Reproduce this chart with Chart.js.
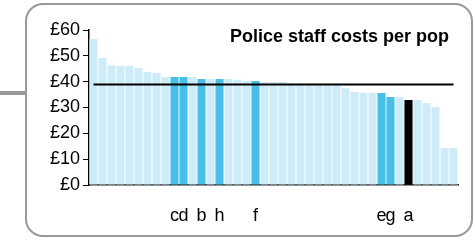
<!DOCTYPE html>
<html>
<head>
<meta charset="utf-8">
<script src="https://cdn.jsdelivr.net/npm/chart.js@4"></script>
<style>
  body { margin: 0; background: #fff; }
  #wrap { position: relative; width: 475px; height: 241px; }
  #frame { position: absolute; left: 25px; top: 3px; width: 444px; height: 230px;
           border: 2px solid #999; border-radius: 18px; }
  #stub { position: absolute; left: 0; top: 91px; width: 25px; height: 4px; background: #999; }
  canvas { position: absolute; left: 0; top: 0; }
</style>
</head>
<body>
<div id="wrap">
  <div id="stub"></div>
  <div id="frame"></div>
  <canvas id="cost_Chart" width="475" height="241"></canvas>
</div>
<script>
// 차트 데이터
const title = 'Police staff costs per pop';
const labels = ['', '', '', '', '', '', '', '', '', 'c',
	'd', '', 'b', '', 'h', '', '', '', 'f', '',
	'', '', '', '', '', '', '', '', '', '',
	'', '', 'e', 'g', '', 'a', '', '', '', '',
	''];
const costs = [56.5, 49.2, 46.4, 46.1, 46.1, 45.3, 43.7, 43.4, 41.8, 41.8,
	41.8, 41.8, 41.0, 41.0, 41.0, 41.0, 40.6, 40.3, 40.3, 39.9,
	39.9, 39.9, 39.4, 39.3, 39.2, 39.1, 39.0, 39.0, 37.5, 36.0,
	35.6, 35.6, 35.6, 34.1, 34.1, 32.9, 32.9, 31.7, 30.2, 14.3,
	14.3];
const average = 38.9;
const yTicks = [0, 10, 20, 30, 40, 50, 60];

// 막대 색: 표시된 항목은 진한 파랑, 'a'는 검정
const barColors = labels.map(function(l) {
	if (l == 'a') return '#000000';
	if (l != '') return 'rgb(72,191,232)';
	return 'rgb(206,236,248)';
});

// 차트 안쪽 제목
const titlePlugin = {
	id: 'innerTitle',
	afterDraw: function(chart) {
		const ctx = chart.ctx;
		ctx.save();
		ctx.font = 'bold 18px "Liberation Sans", Arial, sans-serif';
		ctx.fillStyle = '#000';
		ctx.textAlign = 'right';
		ctx.textBaseline = 'alphabetic';
		ctx.fillText(title, 449, 42);
		ctx.restore();
	}
};

var context = document.getElementById('cost_Chart').getContext('2d');
var cost_Chart = new Chart(context, {
	type: 'bar',
	data: {
		labels: labels,
		datasets: [
			{
				type: 'line',
				label: 'average',
				data: labels.map(function() { return average; }),
				borderColor: '#000',
				borderWidth: 2,
				pointRadius: 0,
				fill: false,
				order: 0
			},
			{
				label: 'cost',
				data: costs,
				backgroundColor: barColors,
				barPercentage: 0.9,
				categoryPercentage: 1.0,
				order: 1
			}
		]
	},
	options: {
		responsive: false,
		animation: false,
		layout: { padding: { top: 30, right: 17, bottom: 0, left: 0 } },
		plugins: {
			legend: { display: false },
			tooltip: { enabled: false }
		},
		scales: {
			x: {
				grid: { display: false, drawTicks: false },
				border: { color: '#222', width: 1.5 },
				ticks: {
					autoSkip: false,
					maxRotation: 0,
					padding: 20,
					color: '#000',
					font: { family: '"Liberation Sans", Arial, sans-serif', size: 18 }
				},
				afterFit: function(scale) { scale.height = 56; }
			},
			y: {
				min: 0,
				max: 60,
				afterBuildTicks: function(scale) {
					scale.ticks = yTicks.map(function(v) { return { value: v }; });
				},
				grid: { drawOnChartArea: false, drawTicks: true, tickLength: 6, color: '#000' },
				border: { color: '#000', width: 1.5 },
				ticks: {
					padding: 3,
					color: '#000',
					font: { family: '"Liberation Sans", Arial, sans-serif', size: 18 },
					callback: function(v) { return '£' + v; }
				},
				afterFit: function(scale) { scale.width = 89; }
			}
		}
	},
	plugins: [titlePlugin]
});
</script>
</body>
</html>
